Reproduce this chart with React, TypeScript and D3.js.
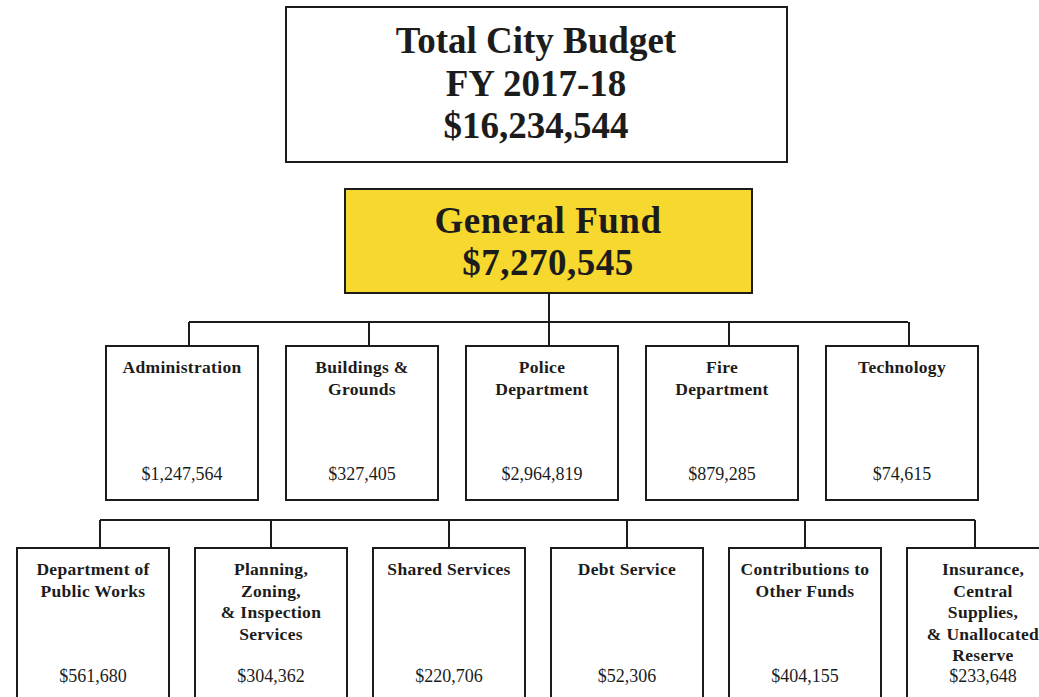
import React from "react";
import { scaleLinear, format } from "d3";

const width = 1039;
const height = 697;

const totalTitle = ["Total City Budget", "FY 2017-18"];
const totalBudget = 16234544;
const fundTitle = "General Fund";
const fundBudget = 7270545;

const deptNames = [
  ["Administration"],
  ["Buildings &", "Grounds"],
  ["Police", "Department"],
  ["Fire", "Department"],
  ["Technology"],
];
const deptValues = [1247564, 327405, 2964819, 879285, 74615];

const otherNames = [
  ["Department of", "Public Works"],
  ["Planning,", "Zoning,", "& Inspection", "Services"],
  ["Shared Services"],
  ["Debt Service"],
  ["Contributions to", "Other Funds"],
  ["Insurance,", "Central", "Supplies,", "& Unallocated", "Reserve"],
];
const otherValues = [561680, 304362, 220706, 52306, 404155, 233648];

const money = format("$,");
const ink = "#1c1c1c";
const serif = "'Liberation Serif', 'Times New Roman', serif";
const boxW = 152;

const row1X = scaleLinear().domain([0, deptNames.length - 1]).range([106, 826]);
const row2X = scaleLinear().domain([0, otherNames.length - 1]).range([17, 907]);

const row1Top = 346;
const row1Bottom = 500;
const row1Bus = 322;
const row2Top = 548;
const row2Bus = 520;

// where the drop line meets each box in the second row
const row2Drop = (i) =>
  row2X(i) + (i === 0 ? 83 : i === otherNames.length - 1 ? 68 : boxW / 2);

const Box = ({ x, y, h, lines, value, valueY }) => (
  <g>
    <rect x={x} y={y} width={boxW} height={h} fill="#fff" stroke={ink} strokeWidth={2} />
    {lines.map((t, i) => (
      <text
        key={i}
        x={x + boxW / 2}
        y={y + 27 + i * 21.5}
        textAnchor="middle"
        fontFamily={serif}
        fontWeight="bold"
        fontSize={17.5}
        letterSpacing={0.3}
        fill={ink}
      >
        {t}
      </text>
    ))}
    <text
      x={x + boxW / 2}
      y={valueY}
      textAnchor="middle"
      fontFamily={serif}
      fontSize={18}
      fill={ink}
    >
      {money(value)}
    </text>
  </g>
);

const App = () => (
  <svg
    width={width}
    height={height}
    style={{ position: "absolute", left: 0, top: 0, background: "#fff" }}
  >
    {/* total budget */}
    <rect x={286} y={7} width={501} height={155} fill="#fff" stroke={ink} strokeWidth={2} />
    {totalTitle.concat([money(totalBudget)]).map((t, i) => (
      <text
        key={t}
        x={536}
        y={53 + i * 42.5}
        textAnchor="middle"
        fontFamily={serif}
        fontWeight="bold"
        fontSize={37}
        fill={ink}
      >
        {t}
      </text>
    ))}

    {/* general fund */}
    <rect x={345} y={189} width={407} height={104} fill="#F7D82E" stroke={ink} strokeWidth={2} />
    <text x={548} y={233} textAnchor="middle" fontFamily={serif} fontWeight="bold" fontSize={37} letterSpacing={0.5} fill={ink}>
      {fundTitle}
    </text>
    <text x={548} y={275} textAnchor="middle" fontFamily={serif} fontWeight="bold" fontSize={37} letterSpacing={0.5} fill={ink}>
      {money(fundBudget)}
    </text>

    {/* connectors, first row */}
    <line x1={549} x2={549} y1={293} y2={row1Bus} stroke={ink} strokeWidth={2} />
    <line x1={row1X(0) + 83} x2={row1X(deptNames.length - 1) + 82} y1={row1Bus} y2={row1Bus} stroke={ink} strokeWidth={2} />
    {deptNames.map((_, i) => (
      <line key={i} x1={row1X(i) + 83} x2={row1X(i) + 83} y1={row1Bus} y2={row1Top} stroke={ink} strokeWidth={2} />
    ))}
    {deptNames.map((lines, i) => (
      <Box key={i} x={row1X(i)} y={row1Top} h={row1Bottom - row1Top} lines={lines} value={deptValues[i]} valueY={480} />
    ))}

    {/* connectors, second row */}
    <line x1={row2Drop(0)} x2={row2Drop(otherNames.length - 1)} y1={row2Bus} y2={row2Bus} stroke={ink} strokeWidth={2} />
    {otherNames.map((_, i) => (
      <line key={i} x1={row2Drop(i)} x2={row2Drop(i)} y1={row2Bus} y2={row2Top} stroke={ink} strokeWidth={2} />
    ))}
    {otherNames.map((lines, i) => (
      <Box key={i} x={row2X(i)} y={row2Top} h={200} lines={lines} value={otherValues[i]} valueY={682} />
    ))}
  </svg>
);

export default App;
